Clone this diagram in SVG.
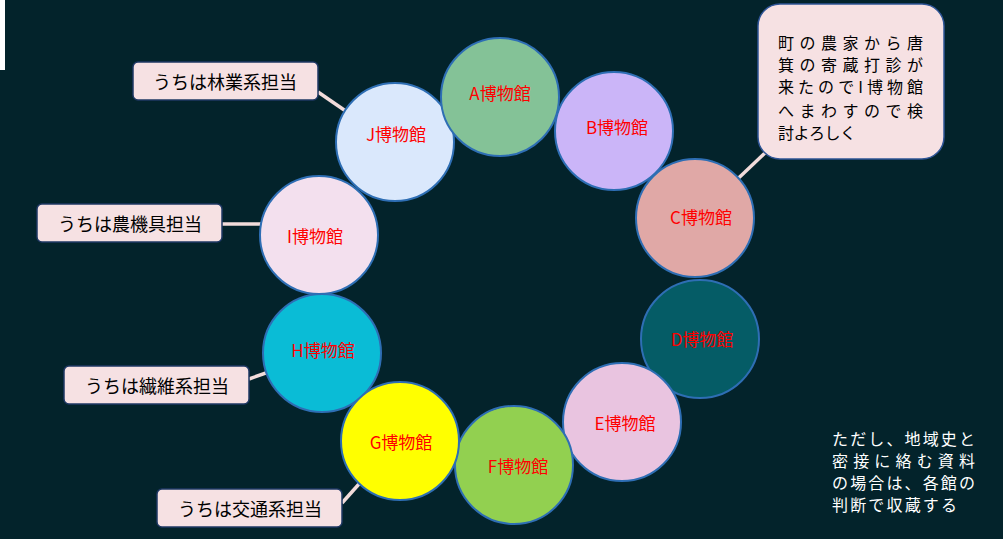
<svg xmlns="http://www.w3.org/2000/svg" width="1003" height="539" viewBox="0 0 1003 539">
<style>
.bg{fill:#03232B}
.m{stroke:#2E6EB4;stroke-width:2}
.ml{font-family:"Noto Sans CJK JP","Noto Sans",sans-serif;font-size:17px;fill:#FF0000;text-anchor:middle;dominant-baseline:central}
.box{fill:#F6E1E3;stroke:#1F3864;stroke-width:1.5}
.bt{font-family:"Noto Sans CJK JP","Noto Sans",sans-serif;font-size:18px;fill:#000;text-anchor:middle;dominant-baseline:central}
.ln{stroke:#F2DCDB;stroke-width:3.5;fill:none}
.ct{font-family:"Noto Sans CJK JP","Noto Sans",sans-serif;font-size:16px;fill:#000}
.wt{font-family:"Noto Sans CJK JP","Noto Sans",sans-serif;font-size:16px;fill:#FFFFFF}
</style>
<rect class="bg" x="0" y="0" width="1003" height="539"/>
<rect x="0" y="0" width="5" height="70" fill="#FFFFFF"/>
<g id="connectors">
<line class="ln" x1="318" y1="92" x2="350" y2="114"/>
<line class="ln" x1="222" y1="224" x2="273" y2="224"/>
<line class="ln" x1="249" y1="379" x2="280" y2="368"/>
<line class="ln" x1="342" y1="503" x2="359" y2="484"/>
<line class="ln" x1="726" y1="190" x2="766" y2="152"/>
</g>
<g id="museumB"><circle class="m" cx="614" cy="131" r="59" fill="#CBB5F8"/><text class="ml" x="617" y="126">B博物館</text></g>
<g id="museumC"><circle class="m" cx="695" cy="218" r="59" fill="#E0A8A6"/><text class="ml" x="701" y="216">C博物館</text></g>
<g id="museumD"><circle class="m" cx="700" cy="339" r="59" fill="#055C66"/><text class="ml" x="702" y="338">D博物館</text></g>
<g id="museumE"><circle class="m" cx="622" cy="422" r="59" fill="#E9C4E0"/><text class="ml" x="625" y="422">E博物館</text></g>
<g id="museumF"><circle class="m" cx="514" cy="465" r="59" fill="#92D050"/><text class="ml" x="518" y="465">F博物館</text></g>
<g id="museumH"><circle class="m" cx="322" cy="353" r="59" fill="#0ABCD6"/><text class="ml" x="323" y="349">H博物館</text></g>
<g id="museumI"><circle class="m" cx="319" cy="235" r="59" fill="#F3E0EE"/><text class="ml" x="315" y="235">I博物館</text></g>
<g id="museumJ"><circle class="m" cx="395" cy="142" r="59" fill="#DAE8FC"/><text class="ml" x="396" y="133">J博物館</text></g>
<g id="museumA"><circle class="m" cx="500" cy="97" r="59" fill="#84C297"/><text class="ml" x="500" y="92">A博物館</text></g>
<g id="museumG"><circle class="m" cx="400" cy="441" r="59" fill="#FFFF00"/><text class="ml" x="401" y="441">G博物館</text></g>
<g id="labelJ"><rect class="box" x="133" y="62" width="185" height="38" rx="5"/><text class="bt" x="225" y="81">うちは林業系担当</text></g>
<g id="labelI"><rect class="box" x="37" y="204" width="185" height="38" rx="5"/><text class="bt" x="130" y="223">うちは農機具担当</text></g>
<g id="labelH"><rect class="box" x="64" y="366" width="185" height="38" rx="5"/><text class="bt" x="157" y="385">うちは繊維系担当</text></g>
<g id="labelG"><rect class="box" x="157" y="489" width="185" height="38" rx="5"/><text class="bt" x="250" y="508">うちは交通系担当</text></g>
<g id="callout">
<rect x="758" y="4" width="186" height="155" rx="22" fill="#F6E1E3" stroke="#2F5597" stroke-width="1.5"/>
<text class="ct" x="778" y="49" textLength="145" lengthAdjust="spacing">町の農家から唐</text>
<text class="ct" x="778" y="71" textLength="145" lengthAdjust="spacing">箕の寄蔵打診が</text>
<text class="ct" x="778" y="93" textLength="145" lengthAdjust="spacing">来たのでI博物館</text>
<text class="ct" x="778" y="117" textLength="145" lengthAdjust="spacing">へまわすので検</text>
<text class="ct" x="778" y="139" textLength="78" lengthAdjust="spacing">討よろしく</text>
</g>
<g id="note">
<text class="wt" x="832" y="445" textLength="143" lengthAdjust="spacing">ただし、地域史と</text>
<text class="wt" x="832" y="467" textLength="143" lengthAdjust="spacing">密接に絡む資料</text>
<text class="wt" x="832" y="489" textLength="143" lengthAdjust="spacing">の場合は、各館の</text>
<text class="wt" x="832" y="511" textLength="125" lengthAdjust="spacing">判断で収蔵する</text>
</g>
</svg>
